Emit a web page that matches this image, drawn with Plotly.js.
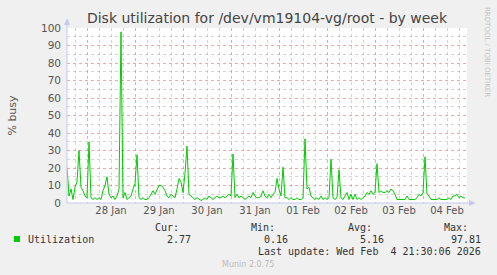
<!DOCTYPE html>
<html><head><meta charset="utf-8">
<script src="https://cdn.plot.ly/plotly-3.0.1.min.js"></script>
<style>html,body{margin:0;padding:0;background:#F0F0F0;}#chart{width:497px;height:275px;}</style>
</head><body><div id="chart"></div>
<script>
// Data: hourly samples (start 2026-01-27 14:00), % busy
const startTime = '2026-01-27T14:00:00';
const stepHours = 1;
const utilization = [
 20.5,4,8,2,9,12,30,9,7,4, 3,35,3,2,3,2,3,2,7,10,
 15,5,3,4,2,4,8,97.81,3,6, 2,3,4,8,11,27.6,3,2,3,2,
 2,3,5,7,5,8,10,10,9,7, 4,3,5,4,3,8,14,12,6,17,
 32.5,5,4,3,2,3,2,1.5,2,3, 2,4,3,2,3,4,3,3,4,3,
 4,5,4,28,3,5,3,4,3,2, 3,4,3,6,4,3,3,4,7,4,
 3,5,3,5,6,14,8,4,20.5,3, 3,2,3,2,2,3,2,2,3,36.7,
 8,9,4,3,2,3,2,4,2,3, 2,3,25,3,2,3,19,3,2,4,
 6,2,5,2,5,2,3,2,3,4, 6,5,7,5,6,22.5,6,7,6,6,
 7,6,8,7,5,2,2,2,2,2, 4,2,2,2,2,3,5,4,6,26.4,
 5,4,2,2,2,2,3,2,2,2, 2,3,2,4,4,5,3,4,3,2.77
];
const seriesName = 'Utilization';
const statLabels = ['Cur:', 'Min:', 'Avg:', 'Max:'];
const statValues = ['2.77', '0.16', '5.16', '97.81'];
const titleText = 'Disk utilization for /dev/vm19104-vg/root - by week';
const yTitle = '% busy';
const lastUpdate = 'Last update: Wed Feb  4 21:30:06 2026';
const footer = 'Munin 2.0.75';
const sideText = 'RRDTOOL / TOBI OETIKER';
const xRange = ['2026-01-27 14:00', '2026-02-04 22:00'];

const t0 = new Date(startTime + 'Z').getTime();
const times = utilization.map((v, i) => {
  const d = new Date(t0 + i * stepHours * 3600000);
  return d.toISOString().slice(0, 19).replace('T', ' ');
});

// pixel helpers -> paper coordinates
const L = 67, R = 467, T = 28, B = 203;
const px = x => (x - L) / (R - L);
const py = y => (B - y) / (B - T);

const mono = 'DejaVu Sans Mono, monospace';
const annotations = [];
const statRight = [181, 277, 374, 470];
const valRight = [193, 290, 386, 483];
statLabels.forEach((s, i) => annotations.push({xref:'paper', yref:'paper', x:px(statRight[i]), y:py(227), text:s, showarrow:false, xanchor:'right', yanchor:'middle', font:{family:mono, size:10, color:'#333'}}));
statValues.forEach((s, i) => annotations.push({xref:'paper', yref:'paper', x:px(valRight[i]), y:py(239), text:s, showarrow:false, xanchor:'right', yanchor:'middle', font:{family:mono, size:10, color:'#333'}}));
annotations.push({xref:'paper', yref:'paper', x:px(26), y:py(239), text:seriesName, showarrow:false, xanchor:'left', yanchor:'middle', font:{family:mono, size:10, color:'#333'}});
annotations.push({xref:'paper', yref:'paper', x:px(483), y:py(251), text:lastUpdate.replace(/  /g, ' &nbsp;'), showarrow:false, xanchor:'right', yanchor:'middle', font:{family:mono, size:10, color:'#333'}});
annotations.push({xref:'paper', yref:'paper', x:px(248), y:py(264), text:footer, showarrow:false, xanchor:'center', yanchor:'middle', font:{family:'DejaVu Sans', size:8, color:'#bbbbbb'}});
annotations.push({xref:'paper', yref:'paper', x:px(487), y:py(52), text:sideText, showarrow:false, textangle:90, xanchor:'center', yanchor:'middle', font:{family:'DejaVu Sans', size:7, color:'#c4c4c4'}});

const axisCol = '#c8c8f0';
const shapes = [
  {type:'rect', xref:'paper', yref:'paper', x0:px(14), x1:px(20), y0:py(242), y1:py(236), fillcolor:'#00CC00', line:{width:0}},
  {type:'line', xref:'paper', yref:'paper', x0:px(67), x1:px(67), y0:py(203), y1:py(22), line:{color:axisCol, width:1}},
  {type:'path', xref:'paper', yref:'paper', path:`M ${px(64)} ${py(25)} L ${px(70)} ${py(25)} L ${px(67)} ${py(18)} Z`, fillcolor:axisCol, line:{width:0}},
  {type:'line', xref:'paper', yref:'paper', x0:px(67), x1:px(472), y0:py(203), y1:py(203), line:{color:axisCol, width:1}},
  {type:'path', xref:'paper', yref:'paper', path:`M ${px(469)} ${py(200)} L ${px(469)} ${py(206)} L ${px(476)} ${py(203)} Z`, fillcolor:axisCol, line:{width:0}}
];

const data = [{
  x: times, y: utilization, type:'scatter', mode:'lines', name: seriesName,
  line:{color:'#00CC00', width:1}, hoverinfo:'skip'
}];

const layout = {
  width:497, height:275,
  margin:{l:L, r:497-R, t:T, b:275-B, pad:0},
  paper_bgcolor:'#F0F0F0', plot_bgcolor:'#FFFFFF',
  showlegend:false,
  title:{text:titleText, x:0.5, xref:'paper', y:1 - 18/275, yanchor:'middle', font:{family:'DejaVu Sans', size:14, color:'#444'}},
  xaxis:{
    type:'date', range:xRange, tick0:'2026-01-28', dtick:86400000, tickformat:'%d %b',
    ticklabelmode:'period', ticks:'', showline:false, zeroline:false,
    showgrid:true, gridcolor:'rgba(230,110,110,0.6)', griddash:'dot', gridwidth:1,
    minor:{dtick:6*3600000, showgrid:true, gridcolor:'rgba(170,170,170,0.5)', griddash:'dot', gridwidth:1},
    tickfont:{family:'DejaVu Sans', size:10, color:'#555'}, fixedrange:true
  },
  yaxis:{
    range:[0,100], dtick:10, ticks:'', showline:false, zeroline:false,
    showgrid:true, gridcolor:'rgba(230,110,110,0.6)', griddash:'dot', gridwidth:1,
    minor:{dtick:5, showgrid:true, gridcolor:'rgba(170,170,170,0.5)', griddash:'dot', gridwidth:1},
    ticklabelstandoff:5,
    tickfont:{family:'DejaVu Sans', size:10.5, color:'#555'},
    title:{text:yTitle, standoff:22, font:{family:'DejaVu Sans', size:11, color:'#555'}}, fixedrange:true
  },
  annotations, shapes
};
Plotly.newPlot('chart', data, layout, {displayModeBar:false, staticPlot:true});
</script></body></html>
